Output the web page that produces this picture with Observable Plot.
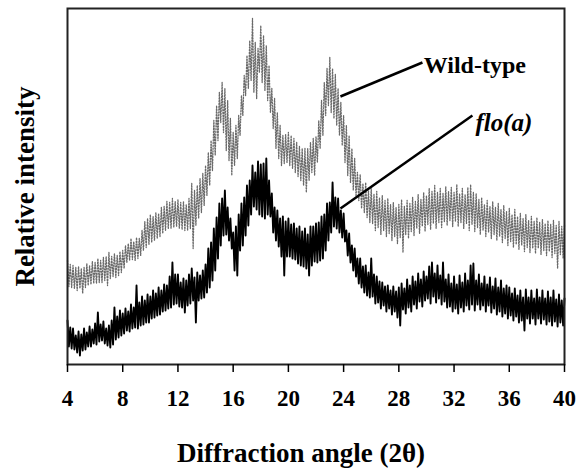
<!DOCTYPE html>
<html>
<head>
<meta charset="utf-8">
<script src="https://cdn.jsdelivr.net/npm/d3@7"></script>
<script src="https://cdn.jsdelivr.net/npm/@observablehq/plot@0.6"></script>
<style>
  html, body { margin: 0; padding: 0; background: #fff; }
</style>
</head>
<body>
<div id="chart"></div>
<script>
// Diffraction angle grid: peaks read at 4.0, 4.2, ... ; troughs read at 4.1, 4.3, ...
const startAngle = 4.0;
const stepAngle = 0.2;
const xTicks = [4, 8, 12, 16, 20, 24, 28, 32, 36, 40];

// Wild-type (grey dotted) – upper samples (peaks)
const wildHi = [
  104, 100, 99, 97, 98, 96, 97, 101, 99, 103,
  102, 106, 104, 107, 108, 112, 108, 111, 109, 113,
  114, 119, 121, 126, 123, 127, 126, 134, 143, 146,
  150, 148, 152, 151, 157, 158, 163, 162, 166, 163,
  165, 162, 163, 160, 166, 181, 174, 179, 186, 191,
  199, 212, 224, 244, 259, 272, 282, 276, 264, 246,
  232, 239, 249, 269, 289, 309, 324, 346, 322, 316,
  339, 329, 319, 299, 276, 266, 252, 239, 229, 230,
  232, 229, 226, 222, 218, 216, 216, 216, 222, 226,
  228, 244, 264, 282, 296, 307, 296, 290, 276, 262,
  249, 239, 229, 216, 206, 192, 190, 181, 182, 174,
  176, 170, 173, 167, 169, 164, 166, 160, 162, 157,
  160, 165, 158, 164, 161, 167, 163, 170, 165, 172,
  169, 176, 173, 179, 172, 176, 171, 178, 173, 177,
  172, 180, 171, 176, 170, 177, 180, 172, 171, 165,
  167, 160, 164, 158, 163, 157, 161, 155, 159, 153,
  156, 150, 155, 148, 151, 146, 150, 144, 148, 143,
  147, 142, 145, 141, 144, 140, 144, 139, 143, 138,
  139
];
// Wild-type – lower samples (troughs)
const wildLo = [
  78, 77, 76, 74, 76, 71, 77, 79, 80, 81,
  81, 82, 82, 84, 79, 86, 88, 87, 89, 92,
  96, 102, 104, 105, 104, 106, 109, 114, 117, 120,
  122, 124, 126, 128, 131, 134, 136, 136, 137, 138,
  136, 135, 134, 134, 136, 116, 139, 146, 152, 159,
  169, 179, 194, 209, 224, 242, 232, 214, 204, 189,
  199, 206, 229, 249, 269, 276, 284, 272, 266, 292,
  282, 274, 264, 252, 236, 216, 206, 199, 201, 202,
  199, 196, 192, 188, 184, 179, 172, 184, 192, 189,
  202, 216, 229, 249, 259, 252, 246, 239, 229, 219,
  202, 189, 182, 174, 168, 164, 156, 152, 147, 142,
  141, 134, 137, 130, 134, 128, 131, 124, 128, 121,
  127, 112, 130, 126, 133, 129, 136, 131, 138, 133,
  140, 135, 141, 136, 142, 137, 143, 139, 144, 138,
  143, 138, 142, 136, 141, 134, 140, 133, 137, 130,
  134, 128, 132, 126, 130, 124, 128, 122, 126, 119,
  123, 117, 120, 115, 119, 113, 117, 112, 116, 111,
  116, 110, 114, 109, 113, 107, 111, 96, 110, 106
];

// flo(a) (black) – upper samples (peaks)
const floHi = [
  44, 37, 36, 29, 33, 30, 36, 32, 38, 35,
  41, 52, 40, 43, 36, 39, 44, 57, 48, 54,
  51, 56, 53, 60, 57, 79, 62, 68, 64, 70,
  68, 74, 71, 77, 74, 80, 79, 88, 102, 90,
  90, 82, 86, 84, 90, 96, 87, 92, 89, 94,
  100, 116, 122, 136, 147, 161, 166, 174, 157, 146,
  132, 138, 150, 161, 167, 179, 184, 199, 192, 203,
  200, 201, 206, 184, 171, 157, 154, 146, 148, 143,
  146, 140, 141, 136, 138, 133, 136, 130, 138, 138,
  141, 142, 148, 150, 161, 162, 182, 167, 166, 154,
  151, 134, 131, 119, 116, 106, 106, 98, 99, 92,
  106, 90, 88, 83, 82, 78, 79, 74, 78, 73,
  77, 81, 76, 85, 79, 88, 83, 91, 85, 93,
  88, 98, 102, 91, 99, 89, 102, 85, 90, 81,
  88, 80, 89, 82, 91, 84, 99, 101, 84, 90,
  81, 88, 80, 87, 78, 86, 77, 84, 76, 79,
  77, 71, 76, 69, 74, 67, 75, 67, 74, 66,
  75, 67, 74, 66, 73, 67, 74, 65, 70, 64,
  66
];
// flo(a) – lower samples (troughs)
const floLo = [
  18, 16, 15, 12, 9, 14, 15, 18, 18, 21,
  20, 23, 24, 21, 19, 17, 20, 25, 27, 29,
  31, 34, 33, 36, 37, 36, 39, 40, 42, 42,
  46, 47, 49, 50, 53, 54, 56, 57, 60, 61,
  58, 57, 52, 59, 61, 64, 42, 64, 66, 67,
  72, 77, 84, 94, 106, 119, 129, 130, 124, 116,
  94, 89, 114, 119, 129, 139, 150, 158, 155, 150,
  148, 146, 150, 148, 132, 124, 118, 108, 89, 108,
  108, 106, 105, 101, 99, 98, 96, 89, 99, 103,
  102, 104, 106, 114, 124, 132, 138, 136, 132, 127,
  123, 109, 102, 94, 88, 81, 77, 72, 69, 67,
  68, 61, 62, 56, 59, 53, 56, 50, 53, 47,
  39, 55, 51, 57, 53, 60, 56, 63, 58, 64,
  66, 61, 68, 62, 66, 60, 63, 57, 58, 53,
  56, 51, 57, 53, 59, 55, 60, 54, 60, 55,
  59, 53, 59, 52, 56, 50, 53, 48, 51, 46,
  49, 44, 48, 42, 44, 34, 46, 41, 46, 40,
  46, 41, 45, 40, 43, 39, 43, 38, 42, 39
];

// Annotations
const labelText = ["Wild-type", "flo(a)"];
const labelAngle = [29.8, 33.55];
const labelValue = [299, 242];
const labelStyle = ["normal", "italic"];
const leaderFromAngle = [23.77, 23.77];
const leaderFromValue = [268, 156];
const leaderToAngle = [29.71, 33.33];
const leaderToValue = [302, 249];

function series(hi, lo) {
  const pts = [];
  for (let i = 0; i < hi.length; i++) {
    pts.push({angle: startAngle + stepAngle * i, value: hi[i]});
    if (i < lo.length) pts.push({angle: startAngle + stepAngle * i + stepAngle / 2, value: lo[i]});
  }
  return pts;
}
const wildData = series(wildHi, wildLo);
const floData = series(floHi, floLo);
const annotations = labelText.map((t, i) => ({text: t, angle: labelAngle[i], value: labelValue[i], style: labelStyle[i]}));
const leaders = leaderFromAngle.map((a, i) => ({x1: a, y1: leaderFromValue[i], x2: leaderToAngle[i], y2: leaderToValue[i]}));

const font = "'Liberation Serif', 'Times New Roman', serif";

const chart = Plot.plot({
  width: 584,
  height: 471,
  marginLeft: 67,
  marginRight: 20,
  marginTop: 8,
  marginBottom: 107,
  x: {domain: [4, 40]},
  y: {domain: [0, 356], axis: null},
  style: {fontFamily: font, fontWeight: "bold", color: "#000", background: "#fff", overflow: "visible"},
  marks: [
    Plot.line(wildData, {x: "angle", y: "value", stroke: "#6a6a6a", strokeWidth: 1.3, strokeDasharray: "1.2,1.6", curve: "linear"}),
    Plot.line(floData, {x: "angle", y: "value", stroke: "#000", strokeWidth: 1.9, curve: "linear"}),
    Plot.frame({stroke: "#222", strokeWidth: 2}),
    Plot.axisX({ticks: xTicks, tickSize: 8, tickPadding: 17, label: null, fontSize: 23, fontWeight: "bold", fontFamily: font, strokeWidth: 1.5}),
    Plot.link(leaders, {x1: "x1", y1: "y1", x2: "x2", y2: "y2", stroke: "#000", strokeWidth: 2.5}),
    Plot.text(annotations.filter(d => d.style === "normal"), {x: "angle", y: "value", text: "text", textAnchor: "start", lineAnchor: "middle", fontSize: 24, fontWeight: "bold", fontFamily: font, fill: "#000"}),
    Plot.text(annotations.filter(d => d.style === "italic"), {x: "angle", y: "value", text: "text", textAnchor: "start", lineAnchor: "middle", fontSize: 25, fontWeight: "bold", fontStyle: "italic", fontFamily: font, fill: "#000"}),
    Plot.text(["Diffraction angle (2θ)"], {frameAnchor: "bottom", textAnchor: "middle", dx: -15, dy: 89, lineAnchor: "middle", fontSize: 27, fontWeight: "bold", fontFamily: font, fill: "#000"}),
    Plot.text(["Relative intensity"], {frameAnchor: "left", textAnchor: "middle", dx: -42, rotate: -90, lineAnchor: "middle", fontSize: 27, fontWeight: "bold", fontFamily: font, fill: "#000"})
  ]
});
document.getElementById("chart").appendChild(chart);
</script>
</body>
</html>
